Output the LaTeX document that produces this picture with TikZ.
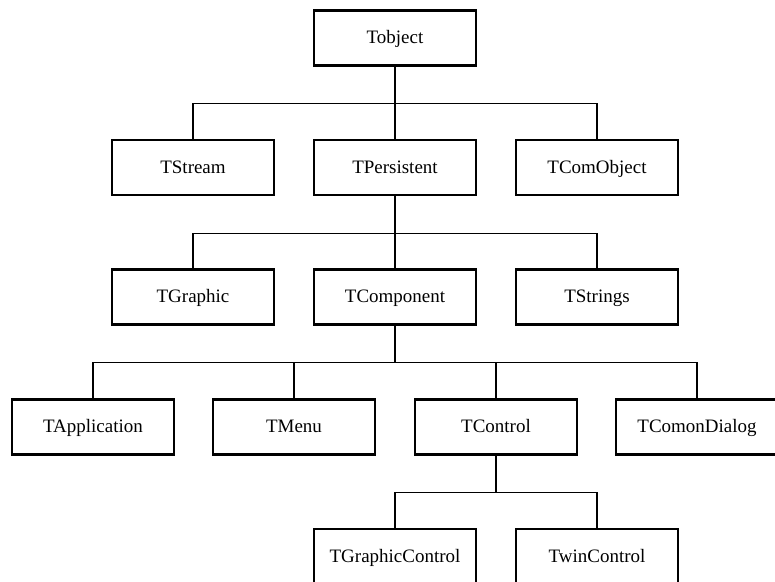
\documentclass[tikz,border=0pt]{standalone}
\usepackage{fontspec}
\setmainfont{Liberation Serif}
\usetikzlibrary{calc}
\tikzset{
	classbox/.style={draw, line width=1.6pt, minimum width=3.24cm, minimum height=1.1cm, inner sep=0pt, text height=0.66em, text depth=0pt, font=\fontsize{10.8}{12}\selectfont},
	link/.style={line width=0.6pt}
}
\def\branch(#1)(#2){\draw[link] (#1.south) -- ++(0,-0.74) -| (#2.north);}

\begin{document}
\begin{tikzpicture}
		%%%%% START %%%%%
		
		\useasboundingbox (0, 0) rectangle (15.5, -11.64);
		
		\node[classbox] (tobject) at (7.9, -0.76) {Tobject};
		
		\node[classbox] (tstream) at (3.86, -3.35) {TStream};
		\node[classbox] (tpersistent) at (7.9, -3.35) {TPersistent};
		\node[classbox] (tcomobject) at (11.94, -3.35) {TComObject};
		
		\node[classbox] (tgraphic) at (3.86, -5.94) {TGraphic};
		\node[classbox] (tcomponent) at (7.9, -5.94) {TComponent};
		\node[classbox] (tstrings) at (11.94, -5.94) {TStrings};
		
		\node[classbox] (tapplication) at (1.86, -8.54) {TApplication};
		\node[classbox] (tmenu) at (5.88, -8.54) {TMenu};
		\node[classbox] (tcontrol) at (9.92, -8.54) {TControl};
		\node[classbox] (tcomondialog) at (13.94, -8.54) {TComonDialog};
		
		\node[classbox] (tgraphiccontrol) at (7.9, -11.13) {TGraphicControl};
		\node[classbox] (twincontrol) at (11.94, -11.13) {TwinControl};
		
		\branch(tobject)(tstream)
		\branch(tobject)(tpersistent)
		\branch(tobject)(tcomobject)
		
		\branch(tpersistent)(tgraphic)
		\branch(tpersistent)(tcomponent)
		\branch(tpersistent)(tstrings)
		
		\branch(tcomponent)(tapplication)
		\branch(tcomponent)(tmenu)
		\branch(tcomponent)(tcontrol)
		\branch(tcomponent)(tcomondialog)
		
		\branch(tcontrol)(tgraphiccontrol)
		\branch(tcontrol)(twincontrol)
		
		%%%%% END %%%%%
	\end{tikzpicture}
\end{document}
